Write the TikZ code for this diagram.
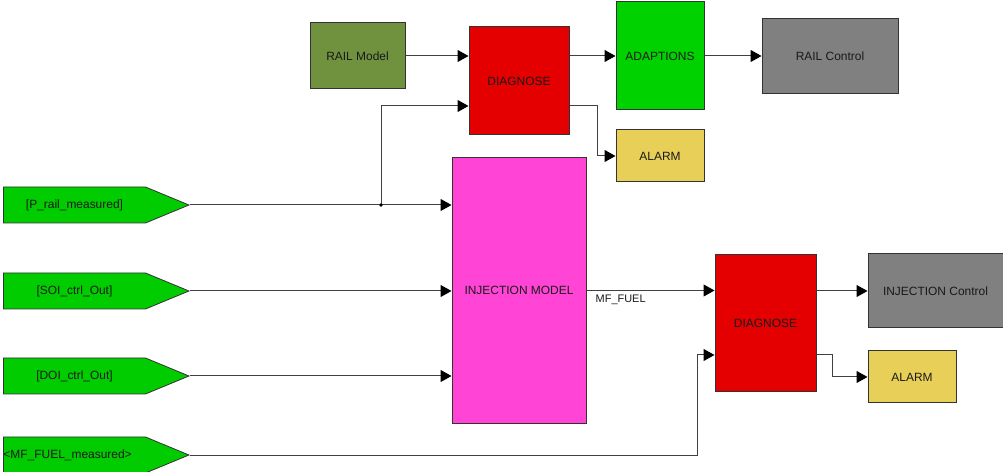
\documentclass[tikz,border=0pt]{standalone}
\usepackage{fontspec}
\setmainfont{Liberation Sans}
\usepackage{tikz}
\usetikzlibrary{arrows.meta,shapes.symbols,calc}
\definecolor{railolive}{RGB}{112,146,62}
\definecolor{diagred}{RGB}{228,0,0}
\definecolor{adaptgreen}{RGB}{0,210,0}
\definecolor{alarmyellow}{RGB}{232,208,88}
\definecolor{ctrlgray}{RGB}{128,128,128}
\definecolor{injpink}{RGB}{255,68,214}
\definecolor{taggreen}{RGB}{0,204,0}

\begin{document}
\begin{tikzpicture}[x=1bp, y=-1bp,
  every node/.style={font=\fontsize{12}{14}\selectfont, text=black!90},
  block/.style={draw=black!80, line width=1bp, inner sep=0pt, align=center},
  tag/.style={signal, signal to=east, signal pointer angle=45,
              draw=black!80, fill=taggreen, line width=0.8bp,
              minimum height=36bp, text width=142bp, inner xsep=0pt,
              align=center},
  wire/.style={draw=black!75, line width=1bp,
               -{Triangle[length=11bp,width=12bp,color=black]}},
]
\useasboundingbox (0,0) rectangle (1003,472);

%% ── Rail path ──────────────────────────────────────────────────────────────
\node[block, fill=railolive, minimum width=95bp, minimum height=66bp]
  (railmodel) at (357.5,56) {RAIL Model};
\node[block, fill=diagred, minimum width=100bp, minimum height=108bp]
  (diag1) at (519,81) {DIAGNOSE};
\node[block, fill=adaptgreen, minimum width=88bp, minimum height=108bp]
  (adapt) at (660,56) {ADAPTIONS};
\node[block, fill=alarmyellow, minimum width=88bp, minimum height=52bp]
  (alarm1) at (660,156) {ALARM};
\node[block, fill=ctrlgray, minimum width=136bp, minimum height=75bp]
  (railctrl) at (830,56) {RAIL Control};

%% ── Injection path ─────────────────────────────────────────────────────────
\node[block, fill=injpink, minimum width=134bp, minimum height=265bp]
  (inj) at (519,290.5) {INJECTION MODEL};
\node[block, fill=diagred, minimum width=101bp, minimum height=136bp]
  (diag2) at (765.5,323) {DIAGNOSE};
\node[block, fill=ctrlgray, minimum width=135bp, minimum height=74bp]
  (injctrl) at (935.5,291) {INJECTION Control};
\node[block, fill=alarmyellow, minimum width=88bp, minimum height=52bp]
  (alarm2) at (912,377) {ALARM};

%% ── Input tags ─────────────────────────────────────────────────────────────
\node[tag, anchor=east] (prail) at (190,205) {[P\_rail\_measured]};
\node[tag, anchor=east] (soi)   at (190,291) {[SOI\_ctrl\_Out]};
\node[tag, anchor=east] (doi)   at (190,376) {[DOI\_ctrl\_Out]};
\node[tag, anchor=east, align=left]
  (mfmeas) at (190,455) {\textless MF\_FUEL\_measured\textgreater};

%% ── Rail wires ─────────────────────────────────────────────────────────────
\draw[wire] (railmodel.east) -- (railmodel.east -| diag1.west);
\draw[wire] (adapt.west -| diag1.east) -- (adapt.west);
\draw[wire] (adapt.east) -- (adapt.east -| railctrl.west);
\coordinate (alarm1in) at ($(alarm1.west)+(-18,0)$);
\draw[wire] ($(diag1.east)+(0,25)$) -| (alarm1in) -- (alarm1.west);

%% ── Tag wires ──────────────────────────────────────────────────────────────
\coordinate (split) at ($(prail.east)+(191,0)$);
\draw[wire] (prail.east) -- (prail.east -| inj.west);
\draw[wire] (split) |- ($(diag1.west)+(0,25)$);
\fill[black] (split) circle (1.8bp);
\draw[wire] (soi.east) -- (soi.east -| inj.west);
\draw[wire] (doi.east) -- (doi.east -| inj.west);
\coordinate (diag2in) at ($(diag2.west)+(-17,32)$);
\draw[wire] (mfmeas.east) -| (diag2in) -- ($(diag2.west)+(0,32)$);

%% ── Injection wires ────────────────────────────────────────────────────────
\draw[wire] (inj.east) -- (inj.east -| diag2.west);
\node[anchor=north west, font=\fontsize{11}{13}\selectfont, inner sep=0pt]
  (mflabel) at ($(inj.east)+(9,4)$) {MF\_FUEL};
\draw[wire] (injctrl.west -| diag2.east) -- (injctrl.west);
\coordinate (alarm2in) at ($(alarm2.west)+(-35,0)$);
\draw[wire] ($(diag2.east)+(0,32)$) -| (alarm2in) -- (alarm2.west);

\end{tikzpicture}
\end{document}
